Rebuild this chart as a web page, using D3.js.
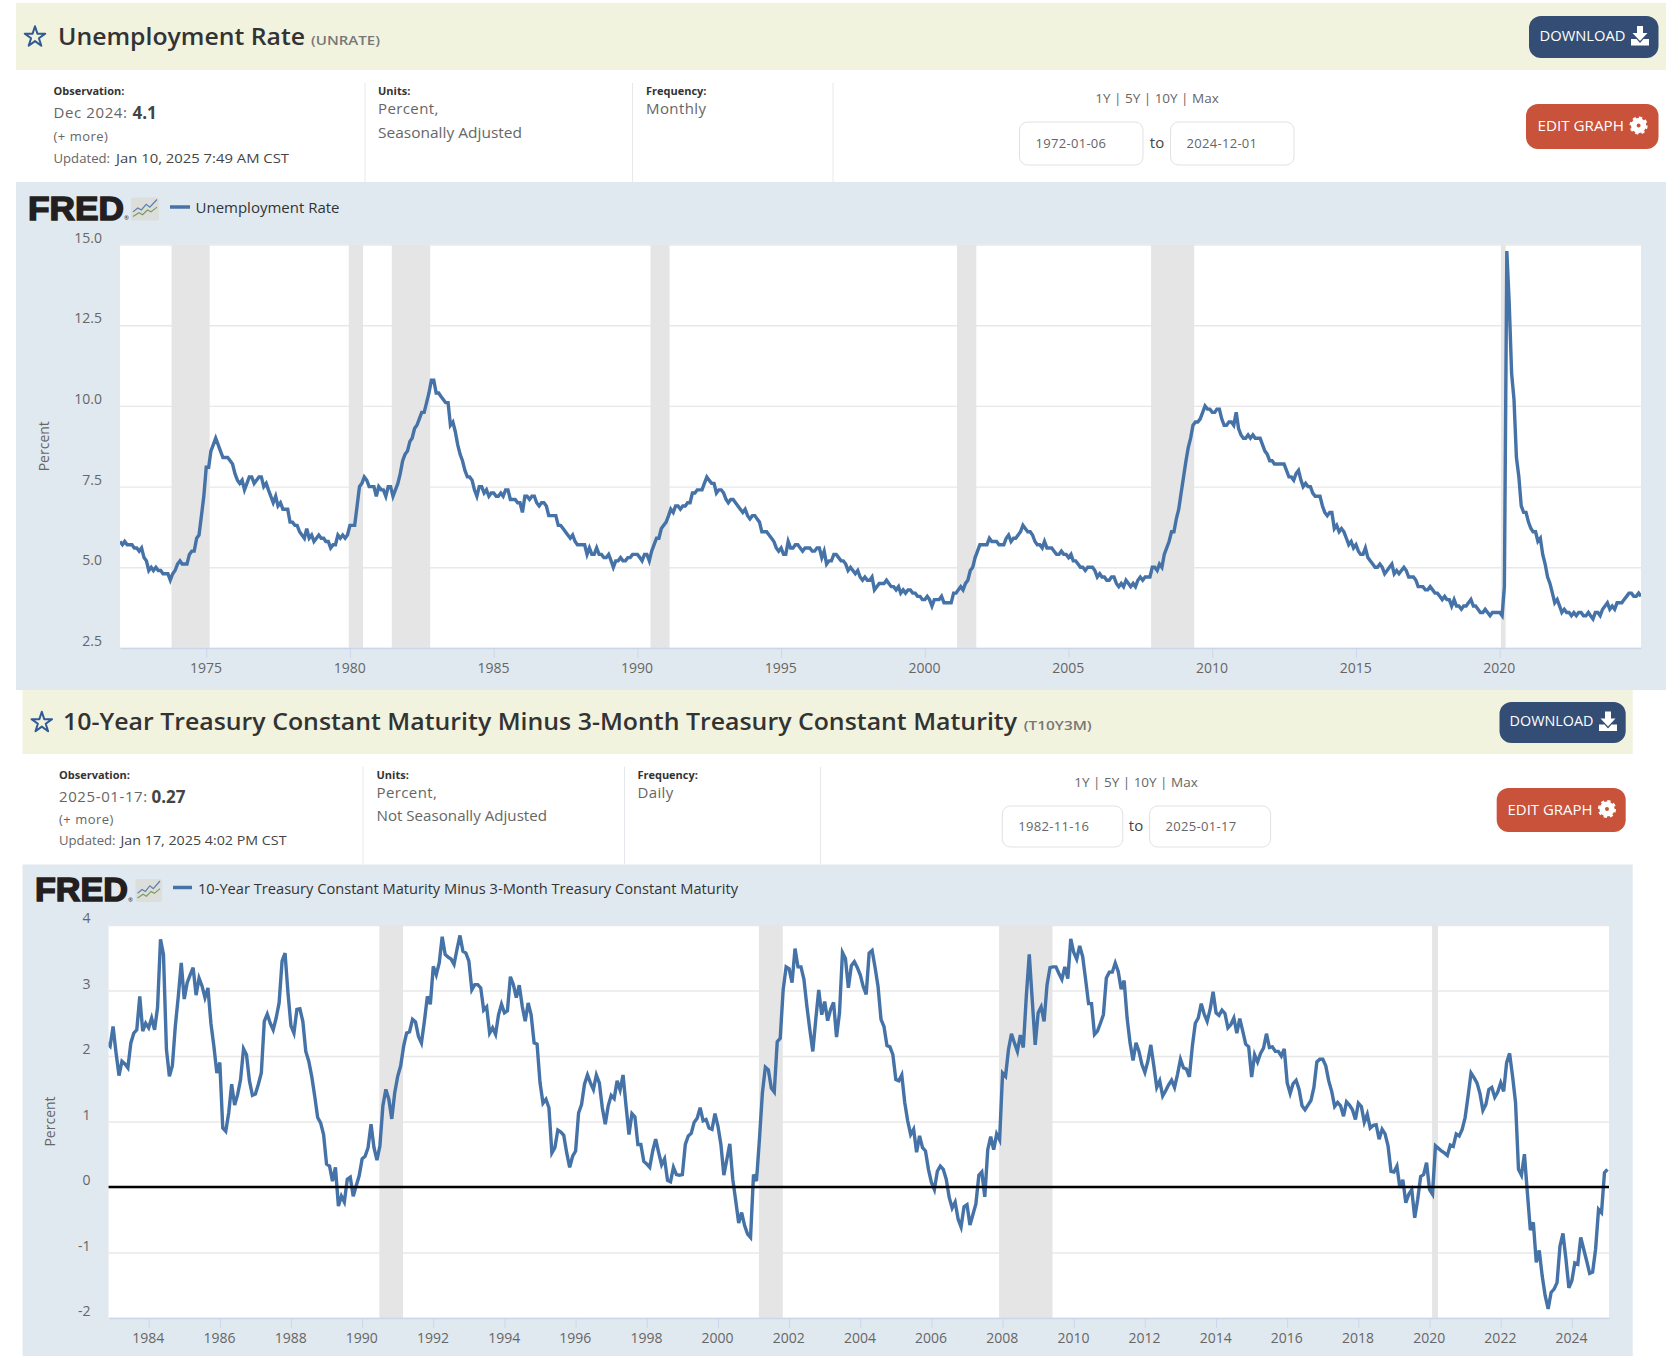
<!DOCTYPE html>
<html>
<head>
<meta charset="utf-8">
<script src="https://cdn.jsdelivr.net/npm/d3@7"></script>
<style>
html,body{margin:0;padding:0;background:#fff;}
svg{display:block;}
text{font-family:"Open Sans",sans-serif;}
</style>
</head>
<body>
<svg id="page" width="1680" height="1356"></svg>
<script>
// ---------- DATA ----------
const unrateStart = "1972-01-01";
const unrateEnd = "2024-12-01";
const unrateValues = [
5.8,5.7,5.8,5.7,5.7,5.7,5.6,5.6,5.5,5.6,5.3,5.2,
4.9,5.0,4.9,5.0,4.9,4.9,4.8,4.8,4.8,4.6,4.8,4.9,
5.1,5.2,5.1,5.1,5.1,5.4,5.5,5.5,5.9,6.0,6.6,7.2,
8.1,8.1,8.6,8.8,9.0,8.8,8.6,8.4,8.4,8.4,8.3,8.2,
7.9,7.7,7.6,7.7,7.4,7.6,7.8,7.8,7.6,7.7,7.8,7.8,
7.5,7.6,7.4,7.2,7.0,7.2,6.9,7.0,6.8,6.8,6.8,6.4,
6.4,6.3,6.3,6.1,6.0,5.9,6.2,5.9,6.0,5.8,5.9,6.0,
5.9,5.9,5.8,5.8,5.6,5.7,5.7,6.0,5.9,6.0,5.9,6.0,
6.3,6.3,6.3,6.9,7.5,7.6,7.8,7.7,7.5,7.5,7.5,7.2,
7.5,7.4,7.4,7.2,7.5,7.5,7.2,7.4,7.6,7.9,8.3,8.5,
8.6,8.9,9.0,9.3,9.4,9.6,9.8,9.8,10.1,10.4,10.8,10.8,
10.4,10.4,10.3,10.2,10.1,10.1,9.4,9.5,9.2,8.8,8.5,8.3,
8.0,7.8,7.8,7.7,7.4,7.2,7.5,7.5,7.3,7.4,7.2,7.3,
7.3,7.2,7.2,7.3,7.2,7.4,7.4,7.1,7.1,7.1,7.0,7.0,
6.7,7.2,7.2,7.1,7.2,7.2,7.0,6.9,7.0,7.0,6.9,6.6,
6.6,6.6,6.6,6.3,6.3,6.2,6.1,6.0,5.9,6.0,5.8,5.7,
5.7,5.7,5.7,5.4,5.6,5.4,5.4,5.6,5.4,5.4,5.3,5.3,
5.4,5.2,5.0,5.2,5.2,5.3,5.2,5.2,5.3,5.3,5.4,5.4,
5.4,5.3,5.2,5.4,5.4,5.2,5.5,5.7,5.9,5.9,6.2,6.3,
6.4,6.6,6.8,6.7,6.9,6.9,6.8,6.9,6.9,7.0,7.0,7.3,
7.3,7.4,7.4,7.4,7.6,7.8,7.7,7.6,7.6,7.3,7.4,7.4,
7.3,7.1,7.0,7.1,7.1,7.0,6.9,6.8,6.7,6.8,6.6,6.5,
6.6,6.6,6.5,6.4,6.1,6.1,6.1,6.0,5.9,5.8,5.6,5.5,
5.6,5.4,5.4,5.8,5.6,5.6,5.7,5.7,5.6,5.5,5.6,5.6,
5.6,5.5,5.5,5.6,5.6,5.3,5.5,5.1,5.2,5.2,5.4,5.4,
5.3,5.2,5.2,5.1,4.9,5.0,4.9,4.8,4.9,4.7,4.6,4.7,
4.6,4.6,4.7,4.3,4.4,4.5,4.5,4.5,4.6,4.5,4.4,4.4,
4.3,4.4,4.2,4.3,4.2,4.3,4.3,4.2,4.2,4.1,4.1,4.0,
4.0,4.1,4.0,3.8,4.0,4.0,4.0,4.1,3.9,3.9,3.9,3.9,
4.2,4.2,4.3,4.4,4.3,4.5,4.6,4.9,5.0,5.3,5.5,5.7,
5.7,5.7,5.7,5.9,5.8,5.8,5.8,5.7,5.7,5.7,5.9,6.0,
5.8,5.9,5.9,6.0,6.1,6.3,6.2,6.1,6.1,6.0,5.8,5.7,
5.7,5.6,5.8,5.6,5.6,5.6,5.5,5.4,5.4,5.5,5.4,5.4,
5.3,5.4,5.2,5.2,5.1,5.0,5.0,4.9,5.0,5.0,5.0,4.9,
4.7,4.8,4.7,4.7,4.6,4.6,4.7,4.7,4.5,4.4,4.5,4.4,
4.6,4.5,4.4,4.5,4.4,4.6,4.7,4.6,4.7,4.7,4.7,5.0,
5.0,4.9,5.1,5.0,5.4,5.6,5.8,6.1,6.1,6.5,6.8,7.3,
7.8,8.3,8.7,9.0,9.4,9.5,9.5,9.6,9.8,10.0,9.9,9.9,
9.8,9.8,9.9,9.9,9.6,9.4,9.4,9.5,9.5,9.4,9.8,9.3,
9.1,9.0,9.0,9.1,9.0,9.1,9.0,9.0,9.0,8.8,8.6,8.5,
8.3,8.3,8.2,8.2,8.2,8.2,8.2,8.0,7.8,7.8,7.7,7.9,
8.0,7.7,7.5,7.6,7.5,7.5,7.3,7.2,7.2,7.2,6.9,6.7,
6.6,6.7,6.7,6.2,6.3,6.1,6.2,6.1,5.9,5.7,5.8,5.6,
5.7,5.5,5.4,5.4,5.6,5.3,5.2,5.1,5.0,5.0,5.1,5.0,
4.8,4.9,5.0,5.1,4.8,4.9,4.8,4.9,5.0,4.9,4.7,4.7,
4.7,4.6,4.4,4.4,4.4,4.3,4.3,4.4,4.3,4.2,4.2,4.1,
4.0,4.1,4.0,4.0,3.8,4.0,3.8,3.8,3.7,3.8,3.8,3.9,
4.0,3.8,3.8,3.7,3.6,3.6,3.7,3.6,3.5,3.6,3.6,3.6,
3.6,3.5,4.4,14.8,13.2,11.0,10.2,8.4,7.8,6.9,6.7,6.7,
6.4,6.2,6.1,6.1,5.8,5.9,5.4,5.1,4.7,4.5,4.2,3.9,
4.0,3.8,3.6,3.7,3.6,3.6,3.5,3.6,3.5,3.6,3.6,3.5,
3.5,3.6,3.5,3.4,3.6,3.6,3.5,3.7,3.8,3.9,3.7,3.8,
3.7,3.9,3.9,3.9,4.0,4.1,4.2,4.2,4.1,4.1,4.2,4.1];

const spreadStart = "1982-11-16";
const spreadEnd = "2025-01-17";
const spreadFirstObs = "1982-11-01";
const spreadLastObs = "2025-01-01";
const spreadValues = [
2.2,2.15,2.45,2.05,1.7,1.92,1.88,1.82,2.2,2.35,2.4,2.91,2.38,2.5,2.43,2.58,2.4,2.74,3.78,3.55,2.1,1.69,1.85,2.46,
2.91,3.42,2.87,3.12,3.24,3.35,2.93,3.19,3.07,2.89,3.04,2.5,2.15,1.74,1.9,0.9,0.85,1.13,1.57,1.25,1.41,1.64,2.11,2.02,
1.62,1.4,1.42,1.57,1.74,2.53,2.64,2.5,2.4,2.58,2.81,3.45,3.57,2.96,2.46,2.35,2.71,2.72,2.53,2.07,1.92,1.69,1.39,1.06,
0.98,0.8,0.35,0.32,0.09,0.3,-0.29,-0.14,-0.23,0.12,0.15,-0.14,0.02,0.17,0.43,0.47,0.6,0.96,0.6,0.41,0.63,1.24,1.49,1.34,
1.04,1.44,1.69,1.85,2.15,2.35,2.37,2.56,2.52,2.3,2.2,2.53,2.91,2.79,3.37,3.24,3.42,3.82,3.55,3.51,3.48,3.4,3.63,3.84,
3.6,3.57,3.45,3.01,3.09,3.09,3.04,2.7,2.75,2.35,2.43,2.33,2.63,2.79,2.66,2.69,3.21,3.09,2.89,3.08,2.76,2.53,2.81,2.63,
2.2,2.18,1.59,1.28,1.34,1.21,0.52,0.6,0.87,0.84,0.79,0.52,0.3,0.47,0.55,
1.13,1.26,1.57,1.71,1.59,1.49,1.71,1.59,1.21,0.96,1.24,1.4,1.35,1.62,1.48,1.71,1.24,0.8,1.12,1.07,0.65,0.65,0.39,0.35,0.3,
0.55,0.73,0.53,0.34,0.43,0.1,0.08,0.3,0.19,0.18,0.19,0.65,0.78,0.82,0.99,1.05,1.21,1.01,1.03,0.9,0.88,1.12,0.93,0.65,0.18,
0.42,0.66,0.12,-0.21,-0.55,-0.39,-0.59,-0.72,-0.77,0.19,0.09,0.73,1.44,1.83,1.79,1.51,1.45,2.22,2.27,3.01,3.36,3.33,3.12,3.64,
3.36,3.36,3.17,2.76,2.4,2.07,2.56,3.01,2.63,2.83,2.54,2.71,2.82,2.29,2.66,3.58,3.49,3.04,3.38,3.44,3.35,3.24,3.06,2.94,3.57,
3.61,3.35,3.06,2.56,2.45,2.16,2.14,2.02,1.64,1.62,1.71,1.29,1.01,0.8,0.88,0.53,0.78,0.6,0.55,0.27,0.07,-0.04,0.24,0.32,0.27,
0.12,-0.16,-0.32,-0.23,-0.49,-0.61,-0.3,-0.27,-0.58,-0.42,-0.26,0.18,0.23,-0.15,0.57,0.77,0.57,0.81,0.72,1.74,1.69,2.1,2.34,2.2,
2.07,2.32,2.13,2.91,3.55,2.86,2.17,2.66,2.75,2.53,3.09,3.35,3.36,3.36,3.26,3.17,3.36,3.18,3.79,3.58,3.48,3.68,3.52,3.17,2.8,
2.8,2.33,2.38,2.5,2.63,3.19,3.28,3.28,3.42,3.29,3.02,3.15,2.58,2.2,1.93,2.2,2.07,1.87,1.75,1.92,2.17,1.85,1.52,1.62,1.39,
1.47,1.56,1.63,1.52,1.72,1.95,1.82,1.8,1.68,2.15,2.5,2.58,2.8,2.64,2.53,2.71,2.98,2.66,2.62,2.7,2.65,2.43,2.48,2.58,2.35,
2.57,2.38,2.18,2.14,1.68,2.02,1.91,2.04,2.12,2.34,2.13,2.14,2.07,2.07,2.0,2.11,1.59,1.43,1.58,1.63,1.49,1.24,1.18,1.25,1.32,
1.52,1.91,1.95,1.95,1.85,1.62,1.46,1.23,1.29,1.24,1.08,1.3,1.25,1.18,1.03,1.28,1.23,0.99,1.11,0.9,0.94,0.95,0.73,0.88,0.81,
0.63,0.24,0.23,0.32,-0.01,0.11,-0.24,-0.11,-0.04,-0.47,-0.19,0.16,0.19,0.37,-0.04,-0.11,0.63,0.59,0.55,0.52,0.48,0.64,0.62,0.81,
0.78,0.88,1.06,1.39,1.74,1.67,1.59,1.43,1.17,1.26,1.49,1.52,1.37,1.45,1.59,1.46,1.9,2.04,1.69,1.29,0.27,0.18,0.5,-0.09,-0.66,
-0.54,-1.15,-0.97,-1.36,-1.66,-1.86,-1.61,-1.56,-1.46,-0.9,-0.71,-1.1,-1.54,-1.43,-1.16,-1.18,-0.77,-0.95,-1.13,-1.32,-1.3,-0.95,-0.34,-0.39,0.22,0.27];

const recessions = [
  ["1973-11-01","1975-03-01"],["1980-01-01","1980-07-01"],["1981-07-01","1982-11-01"],
  ["1990-07-01","1991-03-01"],["2001-03-01","2001-11-01"],["2007-12-01","2009-06-01"],["2020-02-01","2020-04-01"]
];
const unrateXTicks = [1975,1980,1985,1990,1995,2000,2005,2010,2015,2020];
const unrateYTicks = [2.5,5,7.5,10,12.5,15];
const spreadXTicks = [1984,1986,1988,1990,1992,1994,1996,1998,2000,2002,2004,2006,2008,2010,2012,2014,2016,2018,2020,2022,2024];
const spreadYTicks = [-2,-1,0,1,2,3,4];

// ---------- LAYOUT ----------
const parse = d3.utcParse("%Y-%m-%d");
const C = {panel:"#e1e9f0",head:"#f2f3df",line:"#4572a7",grid:"#e8e8e8",band:"#e5e5e5",axis:"#ccd6eb",
           tick:"#666",txt:"#333",mut:"#666",dl:"#344d74",edit:"#c8523a",star:"#2f5a94",rule:"#e4e8ec"};
const svg = d3.select("#page");

function rect(x0,y0,x1,y1,fill,rx){return svg.append("rect").attr("x",x0).attr("y",y0).attr("width",x1-x0).attr("height",y1-y0).attr("fill",fill).attr("rx",rx||0);}
function txt(x,y,s,size,fill,o){o=o||{};const t=svg.append("text").attr("x",x).attr("y",y).attr("dy","0.35em").text(s)
  .attr("font-size",size).attr("fill",fill).attr("font-weight",o.w||400).attr("text-anchor",o.a||"start");
  if(o.ls)t.attr("letter-spacing",o.ls); if(o.len){t.attr("textLength",o.len).attr("lengthAdjust","spacingAndGlyphs");} return t;}

function downloadIcon(cx,cy){
  const g=svg.append("g").attr("transform",`translate(${cx},${cy})`).attr("fill","#fff");
  g.append("path").attr("d","M-3,-10H3V-3H7.5L0,5L-7.5,-3H-3Z");
  g.append("path").attr("d","M-9,3H-3.5L0,7L3.5,3H9V9.5H-9Z");
}
function gearIcon(cx,cy){
  const g=svg.append("g").attr("transform",`translate(${cx},${cy})`);
  g.append("circle").attr("r",4.8).attr("fill","none").attr("stroke","#fff").attr("stroke-width",5.6);
  g.append("circle").attr("r",7.8).attr("fill","none").attr("stroke","#fff").attr("stroke-width",2.6).attr("stroke-dasharray","3.2 2.93");
}
function fredLogo(x0,x1,cy,ix0,ix1){
  txt(x0,cy,"FRED",34,"#231f20",{w:700,len:x1-x0-3}).attr("stroke","#231f20").attr("stroke-width",1.5)
    .style("font-family","'Liberation Sans',sans-serif");
  txt(x1-3,cy+10,"®",6,"#231f20");
  const h=23,y0=cy-h/2+1;
  rect(ix0,y0,ix1,y0+h,"#dcdedc",2);
  const xs=d3.scaleLinear().domain([0,1]).range([ix0+2,ix1-2]), ys=d3.scaleLinear().domain([0,1]).range([y0+h-2,y0+2]);
  const l=d3.line().x(d=>xs(d[0])).y(d=>ys(d[1]));
  svg.append("path").attr("d",l([[0,.35],[.2,.55],[.35,.45],[.55,.75],[.7,.6],[1,1]])).attr("fill","none").attr("stroke","#5a7fa8").attr("stroke-width",1.2);
  svg.append("path").attr("d",l([[0,.1],[.25,.3],[.4,.2],[.6,.45],[.75,.35],[1,.6]])).attr("fill","none").attr("stroke","#7d9a5a").attr("stroke-width",1.2);
}

function drawHeader(c){
  rect(c.hx0,c.hy0,c.hx1,c.hy1,C.head);
  svg.append("path").attr("d",d3.symbol(d3.symbolStar,130)()).attr("transform",`translate(${c.starX},${c.starY+1})`)
     .attr("fill","none").attr("stroke",C.star).attr("stroke-width",2).attr("stroke-linejoin","round");
  txt(c.titleX,c.titleY,c.title,24,C.txt,{w:600,len:c.titleLen});
  txt(c.idX,c.idY,c.id,13,"#777",{w:600,len:c.idLen});
  rect(c.dlX0,c.dlY0,c.dlX1,c.dlY1,C.dl,12);
  txt(c.dlTx,(c.dlY0+c.dlY1)/2-1,"DOWNLOAD",14,"#fff",{len:c.dlTl});
  downloadIcon(c.dlIc,(c.dlY0+c.dlY1)/2-1);
  rect(c.edX0,c.edY0,c.edX1,c.edY1,C.edit,12);
  txt(c.edTx,(c.edY0+c.edY1)/2,"EDIT GRAPH",14,"#fff",{len:c.edTl});
  gearIcon(c.edIc,(c.edY0+c.edY1)/2-1);
  // info row
  c.rules.forEach(x=>svg.append("line").attr("x1",x).attr("x2",x).attr("y1",c.ruleY0).attr("y2",c.ruleY1).attr("stroke",C.rule));
  txt(c.obsX,c.labY,"Observation:",11,C.txt,{w:700});
  txt(c.obsX,c.valY,c.obs,15,C.mut,{ls:0.6});
  txt(c.valX,c.valY,c.obsVal,17,"#444",{w:700});
  txt(c.obsX,c.moreY,"(+ more)",13,C.mut,{ls:0.5});
  txt(c.obsX,c.updY,"Updated:",13.5,C.mut,{len:56.5});
  txt(c.updVX,c.updY,c.upd,13.5,"#444",{len:c.updLen});
  txt(c.unitX,c.labY,"Units:",11,C.txt,{w:700});
  txt(c.unitX,c.unit1Y,"Percent,",15,C.mut,{ls:0.4});
  txt(c.unitX,c.unit2Y,c.unit2,15,C.mut,{len:c.unit2Len});
  txt(c.freqX,c.labY,"Frequency:",11,C.txt,{w:700});
  txt(c.freqX,c.unit1Y,c.freq,15,C.mut,{ls:0.4});
  txt(c.rngX,c.rngY,"1Y | 5Y | 10Y | Max",13.5,C.mut,{a:"middle"});
  [[c.b1X0,c.b1X1,c.from],[c.b2X0,c.b2X1,c.to]].forEach(b=>{
    rect(b[0],c.bY0,b[1],c.bY1,"#fff",8).attr("stroke","#e2e2e2");
    txt(b[0]+16,(c.bY0+c.bY1)/2,b[2],13,C.mut,{ls:0.3});
  });
  txt(c.rngX,(c.bY0+c.bY1)/2-1,"to",15,"#444",{a:"middle"});
}

function drawChart(c){
  rect(c.px0,c.py0,c.px1,c.py1,C.panel);
  fredLogo(c.lx0,c.lx1,c.ly,c.ix0,c.ix1);
  svg.append("line").attr("x1",c.dx0).attr("x2",c.dx1).attr("y1",c.dy).attr("y2",c.dy).attr("stroke",C.line).attr("stroke-width",3.5);
  txt(c.legX,c.legY,c.title,15,C.txt,{len:c.legLen});
  rect(c.x0,c.y1,c.x1,c.y0,"#fff");
  const x=d3.scaleUtc().domain([parse(c.start),parse(c.end)]).range([c.x0,c.x1]);
  const y=d3.scaleLinear().domain(c.dom).range([c.y0,c.y1]);
  // grid
  const gy=svg.append("g").attr("transform",`translate(${c.x0},0)`)
    .call(d3.axisLeft(y).tickValues(c.yT).tickSize(-(c.x1-c.x0)).tickPadding(c.yPad).tickFormat(c.fmt));
  gy.select(".domain").remove();
  gy.selectAll(".tick line").attr("stroke",C.grid).attr("stroke-width",1.4);
  gy.selectAll(".tick text").attr("dy","-2.5px").attr("font-size",14).attr("fill",C.tick).style("font-family","'Open Sans',sans-serif");
  // bands
  svg.append("g").attr("transform",`translate(${c.bandDx},0)`).selectAll("rect").data(c.bands).join("rect")
    .attr("x",d=>x(parse(d[0]))).attr("width",d=>x(parse(d[1]))-x(parse(d[0])))
    .attr("y",c.y1).attr("height",c.y0-c.y1).attr("fill",C.band);
  // x axis
  const gx=svg.append("g").attr("transform",`translate(0,${c.y0})`)
    .call(d3.axisBottom(x).tickValues(c.xT.map(v=>new Date(Date.UTC(v,0,1)))).tickSize(10).tickSizeOuter(0).tickPadding(5).tickFormat(d3.utcFormat("%Y")));
  gx.select(".domain").attr("stroke",C.axis).attr("stroke-width",1.5);
  gx.selectAll(".tick line").attr("stroke",C.axis);
  gx.selectAll(".tick text").attr("font-size",14).attr("fill",C.tick).attr("dx","-0.8px").style("font-family","'Open Sans',sans-serif");
  // line, clipped to the plot
  const clipId="clip-"+c.key;
  svg.append("clipPath").attr("id",clipId).append("rect").attr("x",c.x0).attr("y",c.y1-4).attr("width",c.x1-c.x0).attr("height",c.y0-c.y1+4);
  const line=d3.line().x(d=>x(d.date)).y(d=>y(d.value));
  svg.append("path").datum(c.data).attr("d",line).attr("fill","none").attr("stroke",C.line).attr("stroke-width",3.4).attr("clip-path",`url(#${clipId})`);
  if(c.zero){
    svg.append("line").attr("x1",c.x0).attr("x2",c.x1).attr("y1",y(0)).attr("y2",y(0)).attr("stroke","#000").attr("stroke-width",2.5);
  }
  txt(0,0,"Percent",14,C.tick,{a:"middle"}).attr("dy",null).attr("transform",`translate(${c.yTx},${(c.y0+c.y1)/2}) rotate(-90)`);
}

// series built from the arrays
const unrateData = unrateValues.map((v,i)=>({date:d3.utcMonth.offset(parse(unrateStart),i),value:v}));
const spreadTime = d3.scaleLinear().domain([0,spreadValues.length-1]).range([+parse(spreadFirstObs),+parse(spreadLastObs)]);
const spreadData = spreadValues.map((v,i)=>({date:new Date(spreadTime(i)),value:v}));

drawHeader({hx0:16,hx1:1666,hy0:3,hy1:70,starX:35,starY:36,title:"Unemployment Rate",titleX:58,titleY:37,titleLen:247,
  id:"(UNRATE)",idX:311,idY:40,idLen:69,
  dlX0:1529,dlX1:1658.5,dlY0:16,dlY1:58,dlTx:1539.5,dlTl:86,dlIc:1640,
  edX0:1526,edX1:1658.5,edY0:104,edY1:149,edTx:1537.5,edTl:86.5,edIc:1638.6,
  rules:[365,632.6,833],ruleY0:83,ruleY1:182,obsX:53.5,labY:91.5,obs:"Dec 2024:",valY:113,valX:132.5,obsVal:"4.1",moreY:136,updY:158,
  updVX:116,updLen:173,upd:"Jan 10, 2025 7:49 AM CST",unitX:378,unit1Y:109,unit2Y:132.5,unit2:"Seasonally Adjusted",unit2Len:144,freqX:646,freq:"Monthly",
  rngX:1157,rngY:98,b1X0:1019.5,b1X1:1143,b2X0:1170.5,b2X1:1294,bY0:122,bY1:165,from:"1972-01-06",to:"2024-12-01"});

drawChart({key:"unrate",px0:16,px1:1666,py0:182,py1:690,lx0:28,lx1:127,ly:208,ix0:131,ix1:159,dx0:170,dx1:190,dy:207,legX:195.5,legY:207.5,legLen:144,
  title:"Unemployment Rate",x0:120,x1:1641,y0:648,y1:244.5,start:unrateStart,end:unrateEnd,dom:[2.5,15],xT:unrateXTicks,yT:unrateYTicks,
  fmt:d3.format(".1f"),yPad:18,bands:recessions,bandDx:-1.2,data:unrateData,zero:false,yTx:49});

drawHeader({hx0:22.5,hx1:1632.7,hy0:690,hy1:754,starX:41.8,starY:721.5,title:"10-Year Treasury Constant Maturity Minus 3-Month Treasury Constant Maturity",titleX:63,titleY:722,titleLen:954,
  id:"(T10Y3M)",idX:1023.7,idY:725,idLen:68,
  dlX0:1499.5,dlX1:1625.7,dlY0:702,dlY1:743,dlTx:1509.5,dlTl:84,dlIc:1608,
  edX0:1496.7,edX1:1625.7,edY0:788,edY1:832,edTx:1507.5,edTl:85,edIc:1607,
  rules:[363,624.5,820.6],ruleY0:766.7,ruleY1:864,obsX:59,labY:775.3,obs:"2025-01-17:",valY:796.7,valX:151.5,obsVal:"0.27",moreY:819,updY:840.5,
  updVX:120.5,updLen:166,upd:"Jan 17, 2025 4:02 PM CST",unitX:376.5,unit1Y:793,unit2Y:815.7,unit2:"Not Seasonally Adjusted",unit2Len:170.5,freqX:637.4,freq:"Daily",
  rngX:1136,rngY:782.3,b1X0:1002.3,b1X1:1122.8,b2X0:1149.6,b2X1:1270.6,bY0:806,bY1:847,from:"1982-11-16",to:"2025-01-17"});

drawChart({key:"spread",px0:22.5,px1:1632.7,py0:864.5,py1:1356,lx0:35,lx1:131,ly:889.5,ix0:135.5,ix1:162,dx0:173,dx1:192,dy:887.5,legX:198,legY:889,legLen:540,
  title:"10-Year Treasury Constant Maturity Minus 3-Month Treasury Constant Maturity",x0:108.6,x1:1609,y0:1318,y1:925,start:spreadStart,end:spreadEnd,dom:[-2,4],xT:spreadXTicks,yT:spreadYTicks,
  fmt:d=>String(d),yPad:18,bands:recessions.slice(3),bandDx:-0.4,data:spreadData,zero:true,yTx:55});
</script>
</body>
</html>
